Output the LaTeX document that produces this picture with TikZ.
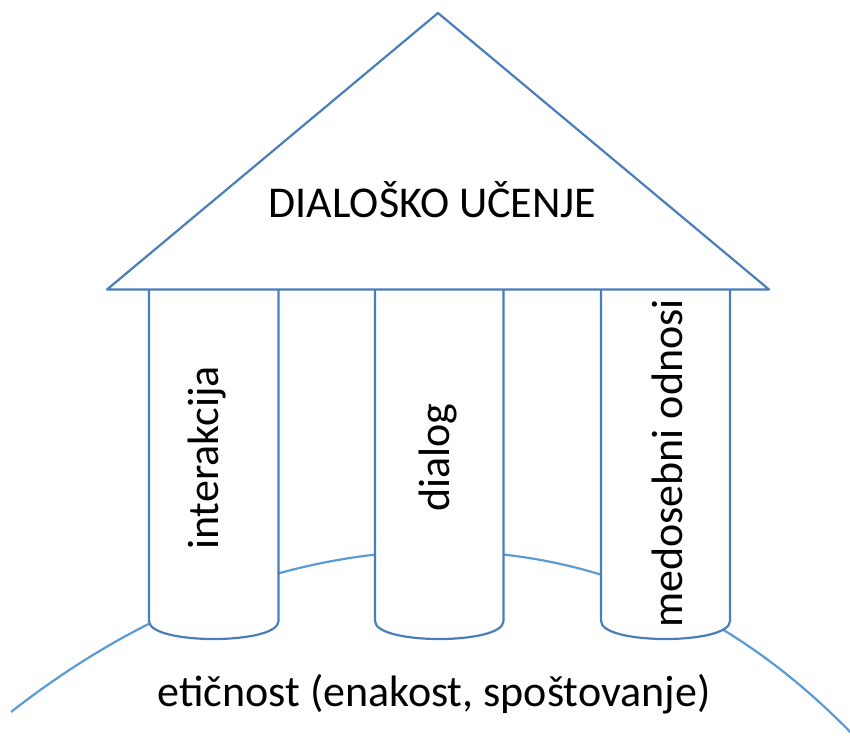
\documentclass[tikz,border=0pt]{standalone}
\usepackage{fontspec}
\setmainfont{Carlito}
\definecolor{roofblue}{HTML}{4A7EBB}
\definecolor{groundblue}{HTML}{5B9BD5}
\begin{document}
\begin{tikzpicture}[x=1pt,y=-1pt,
  outline/.style={draw=roofblue,line width=2.2pt,fill=white,line join=round},
  ground/.style={draw=groundblue,line width=2.2pt},
  label/.style={inner sep=0pt,font=\fontsize{44}{52}\selectfont},
  colname/.style={label,rotate=90,anchor=base west}]
\useasboundingbox (0,0) rectangle (850,737);
\clip (0,0) rectangle (850,737);

% ground: a wide arch behind the columns
\coordinate (gl) at (11,712);
\coordinate (gt) at (439,551);
\coordinate (gr) at (858,740);
\draw[ground] (gl) .. controls (150,603) and (300,551) .. (gt)
  .. controls (599,551) and (738,614) .. (gr);

% columns with rounded bases
\foreach \l/\r in {149/278.5, 375/503.5, 601/730}{
  \draw[outline] (\l,285) -- (\l,621)
    .. controls (\l,645) and (\r,645) .. (\r,621) -- (\r,285);
}

% roof
\draw[outline] (107,289.5) -- (438,13) -- (769,289.5) -- cycle;

\node[label,anchor=base] (title) at (432.5,217) {DIALOŠKO UČENJE};
\node[colname] (c1) at (218,550) {interakcija};
\node[colname] (c2) at (449,512) {dialog};
\node[colname] (c3) at (682,628) {medosebni odnosi};
\node[label,anchor=base] (base) at (434,706) {etičnost (enakost, spoštovanje)};
\end{tikzpicture}
\end{document}
